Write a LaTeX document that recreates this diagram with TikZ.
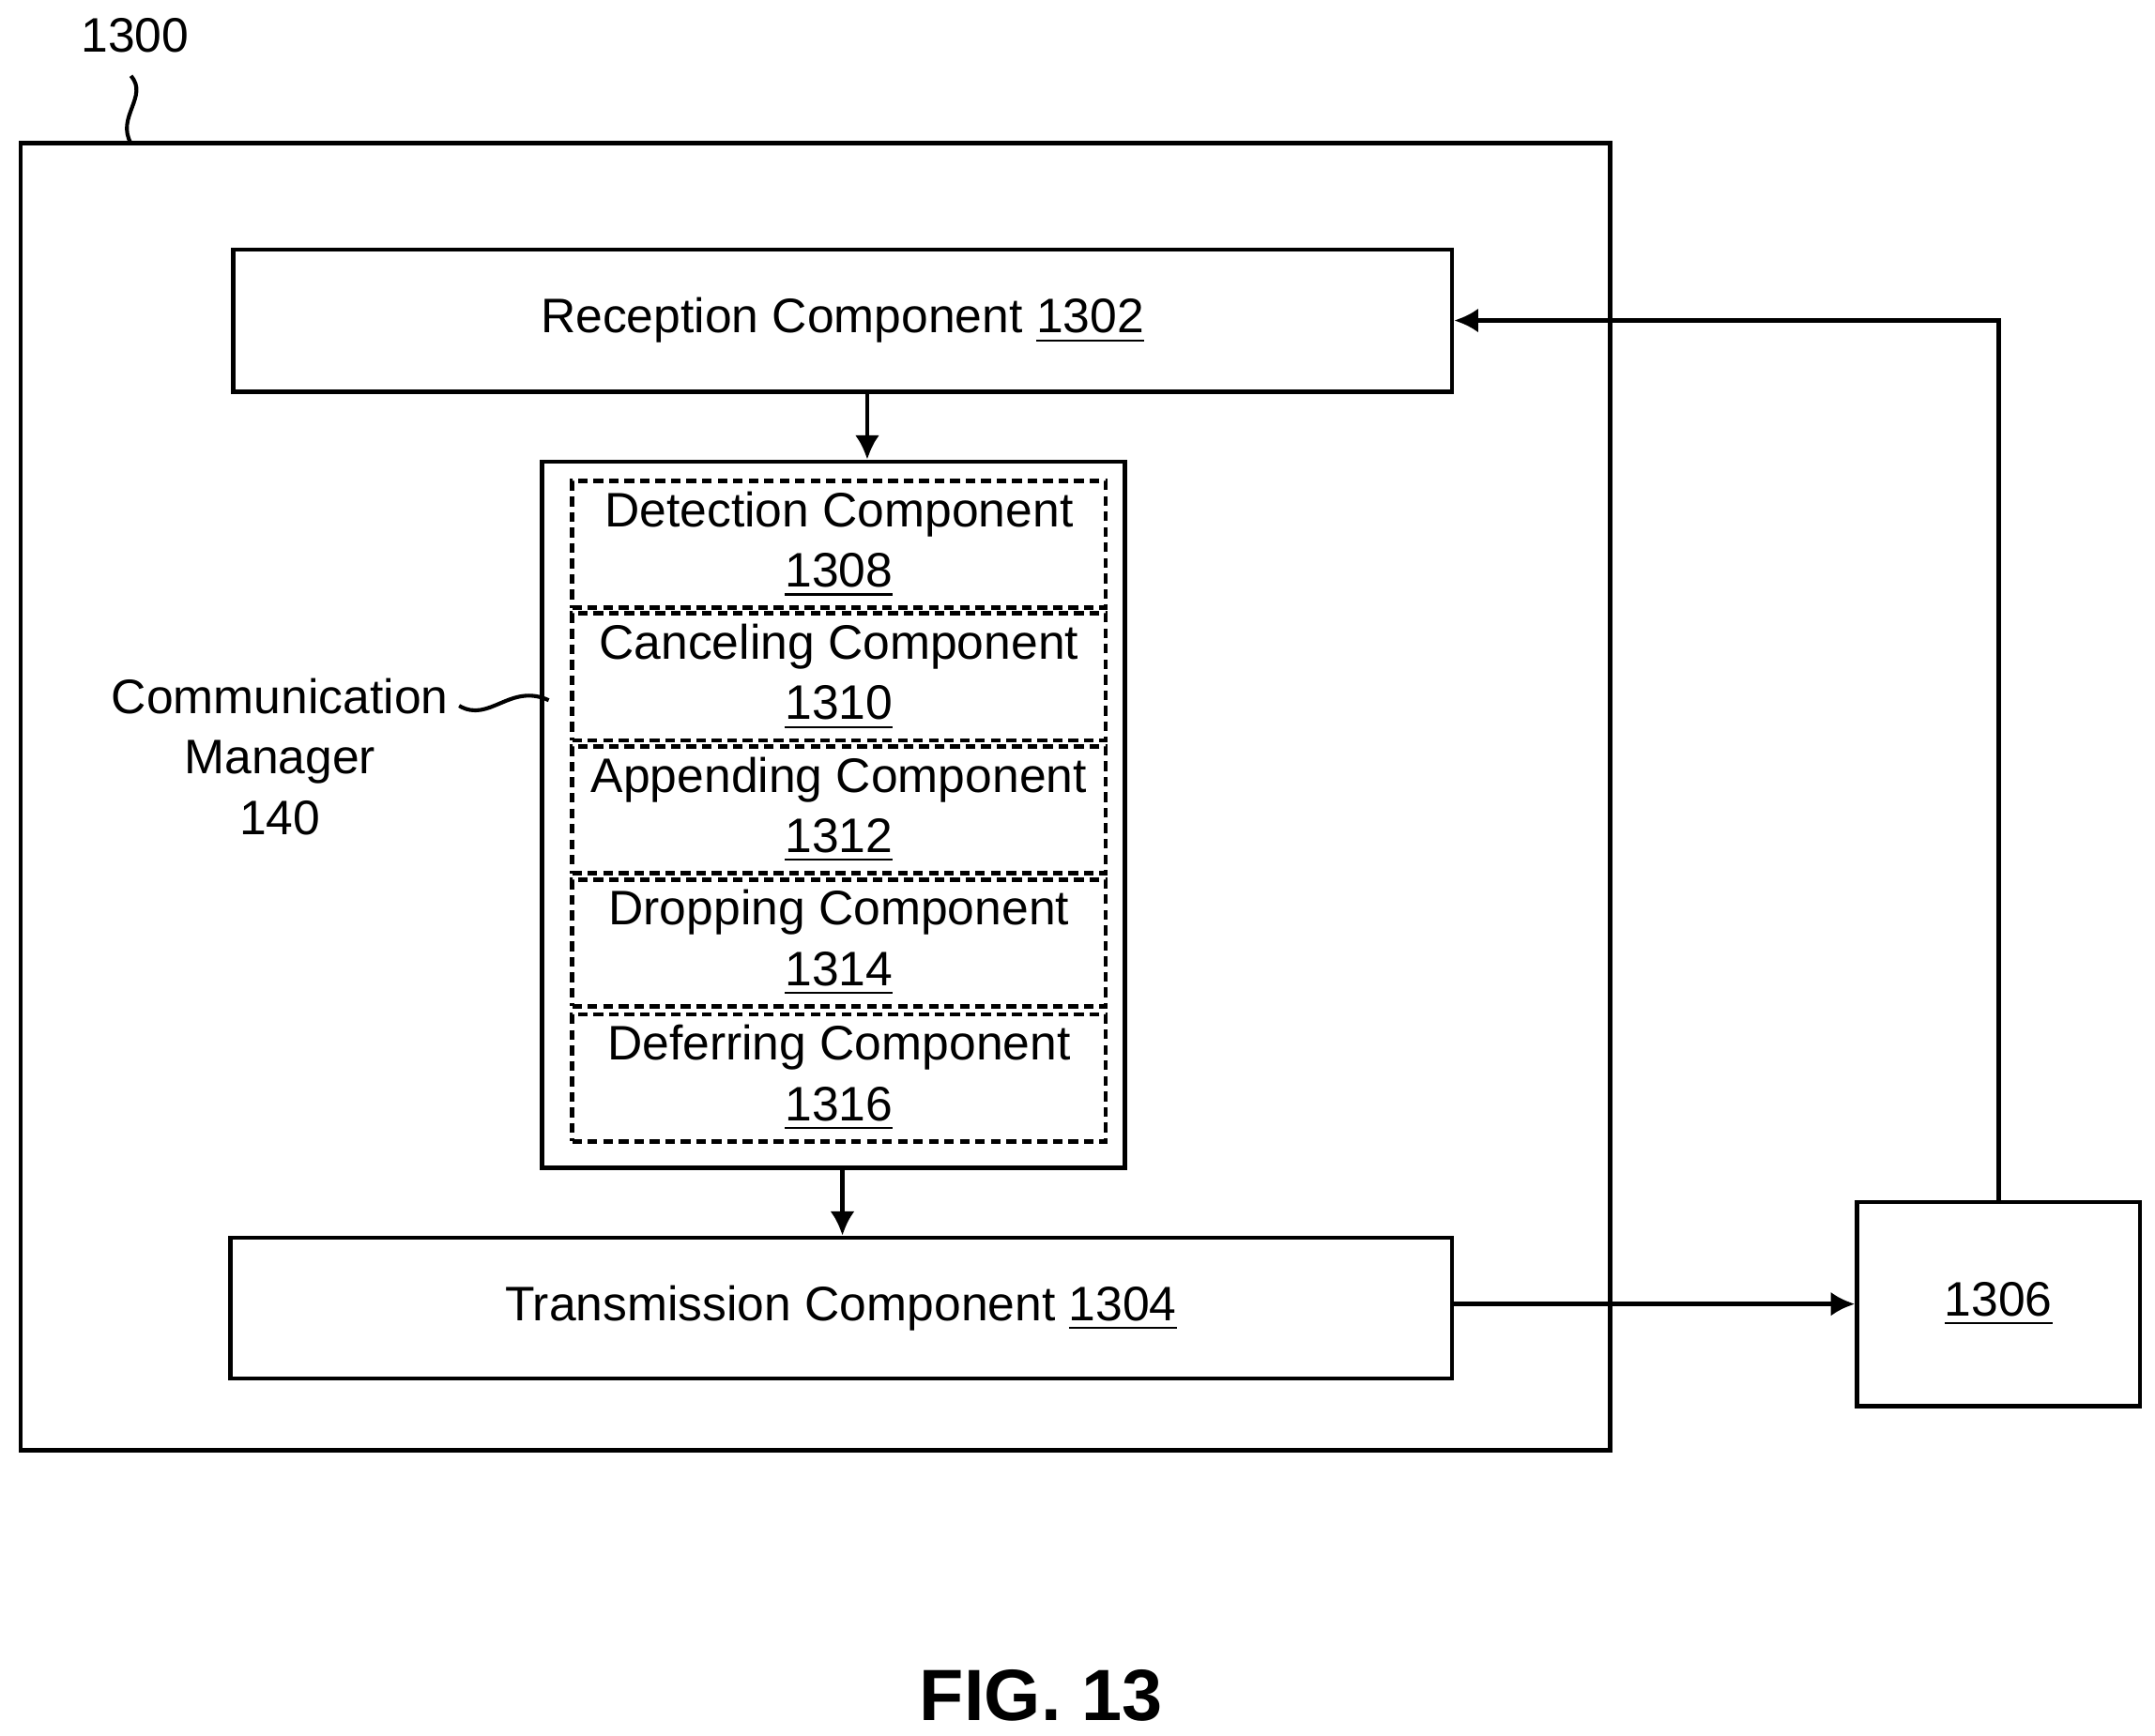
\documentclass[tikz,border=0pt]{standalone}
\usepackage{fontspec}
\setmainfont{Liberation Sans}
\usetikzlibrary{arrows.meta,positioning}
\tikzset{
  box/.style={draw, line width=0.9pt, inner sep=0pt, align=center, font=\fontsize{10}{12.5}\selectfont},
  sub/.style={box, dashed, dash pattern=on 2pt off 1.2pt, minimum width=3.87cm, minimum height=0.92cm},
  arr/.style={line width=0.9pt, -{Latex[length=5pt,width=5pt]}},
}
\begin{document}
\begin{tikzpicture}
    \useasboundingbox (0,0) rectangle (15.63,-12.59);

    % outer device
    \draw[line width=0.9pt] (0.15,-1.04) rectangle (11.68,-10.52);
    \node[font=\fontsize{10}{12}\selectfont] (lbl) at (0.98,-0.26) {1300};
    \draw[line width=0.8pt] (0.95,-0.55) .. controls (1.08,-0.7) and (0.84,-0.85) .. (0.95,-1.04);

    \node[box, minimum width=8.84cm, minimum height=1.03cm] (rec) at (6.11,-2.325) {Reception Component \underline{1302}};
    \node[box, minimum width=8.86cm, minimum height=1.02cm] (tx) at (6.10,-9.49) {Transmission Component \underline{1304}};
    \node[box, minimum width=2.05cm, minimum height=1.48cm] (ext) at (14.495,-9.46) {\underline{1306}};

    % communication manager
    \node[box, minimum width=4.23cm, minimum height=5.12cm] (cm) at (6.045,-5.91) {};
    \node[sub] (det) at (6.085,-3.95) {Detection Component\\\underline{1308}};
    \node[sub] (can) at (6.085,-4.91) {Canceling Component\\\underline{1310}};
    \node[sub] (app) at (6.085,-5.875) {Appending Component\\\underline{1312}};
    \node[sub] (drp) at (6.085,-6.84) {Dropping Component\\\underline{1314}};
    \node[sub] (dfr) at (6.085,-7.82) {Deferring Component\\\underline{1316}};

    \node[align=center, font=\fontsize{10}{12.5}\selectfont] (cmlbl) at (2.03,-5.49) {Communication\\Manager\\140};
    \draw[line width=0.8pt] (3.33,-5.12) .. controls (3.55,-5.25) and (3.7,-4.95) .. (3.98,-5.08);

    % arrows
    \coordinate (c1) at (6.29,0);
    \coordinate (c2) at (6.11,0);
    \draw[arr] (rec.south -| c1) -- (cm.north -| c1);
    \draw[arr] (cm.south -| c2) -- (tx.north -| c2);
    \draw[arr] (tx.east |- ext.west) -- (ext.west);
    \draw[arr] (ext.north) |- (rec.east);

    \node[font=\bfseries\fontsize{15}{18}\selectfont] (fig) at (7.55,-12.3) {FIG. 13};
\end{tikzpicture}
\end{document}
